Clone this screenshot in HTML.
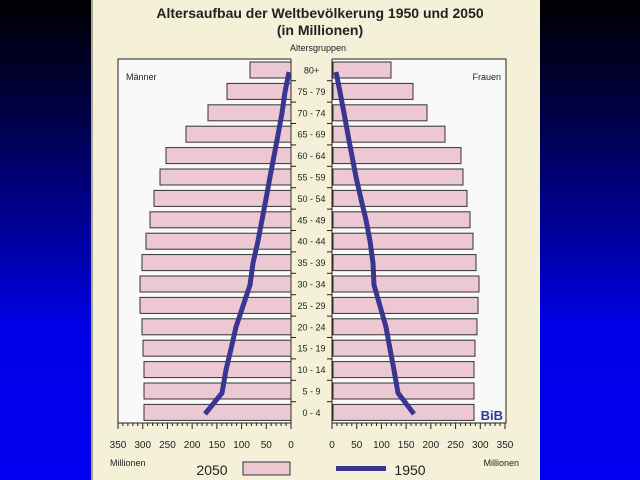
<!DOCTYPE html>
<html><head><meta charset="utf-8"><style>
html,body{margin:0;padding:0;width:640px;height:480px;overflow:hidden;background:linear-gradient(#000 0%,#00004a 25%,#0000a0 50%,#0000e6 68%,#0000f0 100%);}
svg{display:block}
text{font-family:"Liberation Sans",sans-serif;fill:#222}
</style></head><body>
<svg width="640" height="480" viewBox="0 0 640 480">
<rect x="91" y="0" width="449" height="480" fill="#f4f1d8"/>
<rect x="91" y="0" width="2" height="480" fill="#a8a690"/>
<text x="320" y="18" font-size="14" font-weight="bold" text-anchor="middle">Altersaufbau der Weltbevölkerung 1950 und 2050</text>
<text x="320" y="35" font-size="14" font-weight="bold" text-anchor="middle">(in Millionen)</text>
<text x="318" y="51" font-size="9" text-anchor="middle">Altersgruppen</text>
<rect x="118" y="59" width="173" height="364" fill="#f9f9f7" stroke="#222" stroke-width="1"/>
<rect x="332" y="59" width="174" height="364" fill="#f9f9f7" stroke="#222" stroke-width="1"/>
<rect x="291" y="58" width="41" height="366" fill="#f4f1d8"/>
<line x1="291" y1="59" x2="291" y2="423" stroke="#222"/>
<line x1="332" y1="59" x2="332" y2="423" stroke="#222"/>
<text x="126" y="80" font-size="9">Männer</text>
<text x="501" y="80" font-size="9" text-anchor="end">Frauen</text>
<g id="bars" fill="#ecc8d3" stroke="#333" stroke-width="1"></g>
<g id="labels" font-size="9"></g>
<polyline fill="none" stroke="#3a3590" stroke-width="5" stroke-linejoin="round" points="289,72 285,92 282,113 278,135 274,156 270,177 266,199 262,220 258,241 253,263 250,285 243,306 236,327 231,349 226,370 222,393 205,414"/>
<polyline fill="none" stroke="#3a3590" stroke-width="5" stroke-linejoin="round" points="336,72 340,92 344,113 348,135 352,156 356,177 361,199 366,220 370,241 373,263 374,285 380,306 386,327 390,349 394,370 398,393 414,414"/>
<text x="503" y="420" font-size="13" font-weight="bold" text-anchor="end" style="fill:#2a3a9a">BiB</text>
<g id="ticks" stroke="#222" stroke-width="1"></g>
<g font-size="10" text-anchor="middle" id="axlabels"></g>
<text x="110" y="466" font-size="9">Millionen</text>
<text x="519" y="466" font-size="9" text-anchor="end">Millionen</text>
<text x="212" y="475" font-size="14" text-anchor="middle">2050</text>
<rect x="243" y="462" width="47" height="13" fill="#ecc8d3" stroke="#333"/>
<rect x="336" y="466" width="50" height="5" fill="#3a3590"/>
<text x="410" y="475" font-size="14" text-anchor="middle">1950</text>
</svg>
<script>
var ns="http://www.w3.org/2000/svg";
function el(p,t,a,txt){var e=document.createElementNS(ns,t);for(var k in a)e.setAttribute(k,a[k]);if(txt)e.textContent=txt;p.appendChild(e);return e;}
var L=[250,227,208,186,166,160,154,150,146,142,140,140,142,143,144,144,144];
var R=[391,413,427,445,461,463,467,470,473,476,479,478,477,475,474,474,474];
var lab=["80+","75 - 79","70 - 74","65 - 69","60 - 64","55 - 59","50 - 54","45 - 49","40 - 44","35 - 39","30 - 34","25 - 29","20 - 24","15 - 19","10 - 14","5 - 9","0 - 4"];
var b=document.getElementById("bars"),lg=document.getElementById("labels"),tk=document.getElementById("ticks"),al=document.getElementById("axlabels");
for(var i=0;i<17;i++){var c=70+i*21.4;
el(b,"rect",{x:L[i],y:c-8,width:291-L[i],height:16});
el(b,"rect",{x:333,y:c-8,width:R[i]-333,height:16});
el(lg,"text",{x:311.5,y:c+3.5,"text-anchor":"middle"},lab[i]);
if(i<16){var y=c+10.7;el(tk,"line",{x1:291,y1:y,x2:296,y2:y});el(tk,"line",{x1:327,y1:y,x2:332,y2:y});}
}
var s=173/350;
for(var v=0;v<=350;v+=10){var h=(v%50==0)?6:3;
var x1=291-v*s,x2=332+v*s;
el(tk,"line",{x1:x1,y1:423,x2:x1,y2:423+h});el(tk,"line",{x1:x2,y1:423,x2:x2,y2:423+h});
if(v%50==0){el(al,"text",{x:x1,y:448},String(v));el(al,"text",{x:x2,y:448},String(v));}}
el(tk,"line",{x1:118,y1:423,x2:291,y2:423});el(tk,"line",{x1:332,y1:423,x2:506,y2:423});
</script>
</body></html>
